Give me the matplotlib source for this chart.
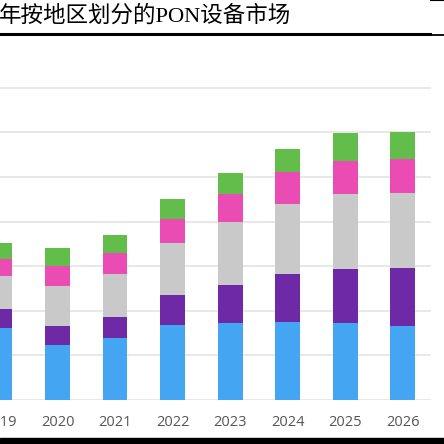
import numpy as np
import matplotlib.pyplot as plt
from matplotlib.lines import Line2D
from matplotlib.patches import Rectangle

years = ['2019', '2020', '2021', '2022', '2023', '2024', '2025', '2026']

# stacked segments, bottom to top (units = one gridline step)
seg_blue = [1.62, 1.24, 1.39, 1.69, 1.73, 1.75, 1.73, 1.66]
seg_purple = [0.43, 0.43, 0.47, 0.67, 0.85, 1.08, 1.21, 1.30]
seg_gray = [0.74, 0.88, 0.97, 1.15, 1.42, 1.57, 1.69, 1.69]
seg_pink = [0.38, 0.45, 0.47, 0.54, 0.61, 0.72, 0.74, 0.76]
seg_green = [0.34, 0.40, 0.40, 0.45, 0.49, 0.52, 0.61, 0.61]

series = [seg_blue, seg_purple, seg_gray, seg_pink, seg_green]
colors = ['#44a6f2', '#6e2aa6', '#c9c9c9', '#ea4cb4', '#62bd4a']

title = '年按地区划分的PON设备市场'

W, H = 444, 444
fig = plt.figure(figsize=(W / 100, H / 100), dpi=100)

# axes placed so the chart is cropped on the left like the source
ax = fig.add_axes([0, 44 / H, 431 / W, 313 / H])

x = np.arange(len(years))
bottom = np.zeros(len(years))
for vals, c in zip(series, colors):
    ax.bar(x, vals, width=0.43, bottom=bottom, color=c, zorder=3)
    bottom += np.array(vals)

ax.set_xlim(0.02, 7.49)
ax.set_ylim(0, 7.02)
ax.set_yticks(range(8))
ax.set_yticklabels([])
ax.yaxis.grid(True, color='#e6e6e6', linewidth=1.3, zorder=0)
ax.tick_params(axis='y', length=0)
ax.set_xticks(x)
ax.set_xticklabels(years, family='Open Sans', fontsize=10.5, color='#555555')
ax.tick_params(axis='x', length=0, pad=11)
for s in ax.spines.values():
    s.set_visible(False)

# title above the thick rule
fig.text(-1 / W, 1 - 16 / H, title, family=['Liberation Serif', 'Noto Sans CJK SC'],
         fontsize=16.2, ha='left', va='center', color='black')

fig.add_artist(Line2D([0, 430 / W], [1 - 34.5 / H] * 2, color='black', lw=2.2,
                      transform=fig.transFigure))
fig.add_artist(Line2D([430 / W, 1], [1 - 35.5 / H] * 2, color='black', lw=1.3,
                      transform=fig.transFigure))
fig.add_artist(Line2D([430 / W, 1], [1 - 0.5 / H] * 2, color='black', lw=0.8,
                      transform=fig.transFigure))

# black band at the bottom edge
fig.add_artist(Rectangle((0, 0), 1, 6 / H, color='black', transform=fig.transFigure))

fig.savefig('out.png', dpi=100)
